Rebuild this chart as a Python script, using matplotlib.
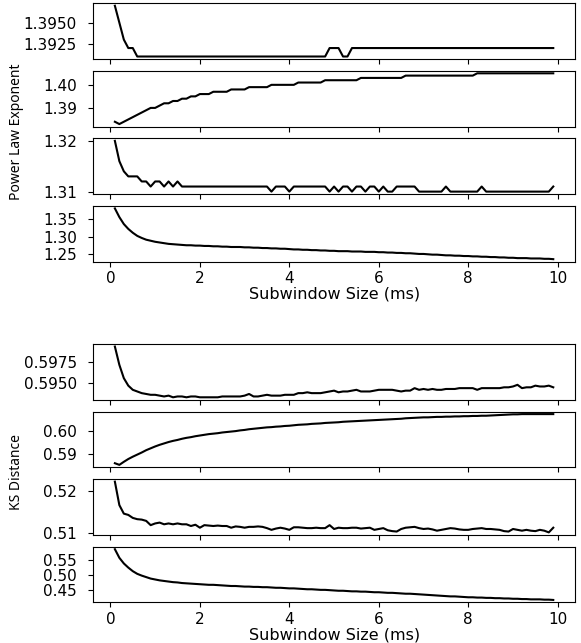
import numpy as np
import matplotlib
matplotlib.use("Agg")
import matplotlib.pyplot as plt

# subwindow sizes in ms (0.1 ... 9.9)
subwindow_ms = np.round(np.arange(1, 100) * 0.1, 1)

# power law exponent, four panels (top to bottom)
pl_panel1 = [
    1.397, 1.395, 1.393, 1.392, 1.392, 1.391, 1.391, 1.391, 1.391, 1.391,
    1.391, 1.391, 1.391, 1.391, 1.391, 1.391, 1.391, 1.391, 1.391, 1.391,
    1.391, 1.391, 1.391, 1.391, 1.391, 1.391, 1.391, 1.391, 1.391, 1.391,
    1.391, 1.391, 1.391, 1.391, 1.391, 1.391, 1.391, 1.391, 1.391, 1.391,
    1.391, 1.391, 1.391, 1.391, 1.391, 1.391, 1.391, 1.391, 1.392, 1.392,
    1.392, 1.391, 1.391, 1.392, 1.392, 1.392, 1.392, 1.392, 1.392, 1.392,
    1.392, 1.392, 1.392, 1.392, 1.392, 1.392, 1.392, 1.392, 1.392, 1.392,
    1.392, 1.392, 1.392, 1.392, 1.392, 1.392, 1.392, 1.392, 1.392, 1.392,
    1.392, 1.392, 1.392, 1.392, 1.392, 1.392, 1.392, 1.392, 1.392, 1.392,
    1.392, 1.392, 1.392, 1.392, 1.392, 1.392, 1.392, 1.392, 1.392,
]
pl_panel2 = [
    1.384, 1.383, 1.384, 1.385, 1.386, 1.387, 1.388, 1.389, 1.390, 1.390,
    1.391, 1.392, 1.392, 1.393, 1.393, 1.394, 1.394, 1.395, 1.395, 1.396,
    1.396, 1.396, 1.397, 1.397, 1.397, 1.397, 1.398, 1.398, 1.398, 1.398,
    1.399, 1.399, 1.399, 1.399, 1.399, 1.400, 1.400, 1.400, 1.400, 1.400,
    1.400, 1.401, 1.401, 1.401, 1.401, 1.401, 1.401, 1.402, 1.402, 1.402,
    1.402, 1.402, 1.402, 1.402, 1.402, 1.403, 1.403, 1.403, 1.403, 1.403,
    1.403, 1.403, 1.403, 1.403, 1.403, 1.404, 1.404, 1.404, 1.404, 1.404,
    1.404, 1.404, 1.404, 1.404, 1.404, 1.404, 1.404, 1.404, 1.404, 1.404,
    1.404, 1.405, 1.405, 1.405, 1.405, 1.405, 1.405, 1.405, 1.405, 1.405,
    1.405, 1.405, 1.405, 1.405, 1.405, 1.405, 1.405, 1.405, 1.405,
]
pl_panel3 = [
    1.320, 1.316, 1.314, 1.313, 1.313, 1.313, 1.312, 1.312, 1.311, 1.312,
    1.312, 1.311, 1.312, 1.311, 1.312, 1.311, 1.311, 1.311, 1.311, 1.311,
    1.311, 1.311, 1.311, 1.311, 1.311, 1.311, 1.311, 1.311, 1.311, 1.311,
    1.311, 1.311, 1.311, 1.311, 1.311, 1.310, 1.311, 1.311, 1.311, 1.310,
    1.311, 1.311, 1.311, 1.311, 1.311, 1.311, 1.311, 1.311, 1.310, 1.311,
    1.310, 1.311, 1.311, 1.310, 1.311, 1.311, 1.310, 1.311, 1.311, 1.310,
    1.311, 1.310, 1.310, 1.311, 1.311, 1.311, 1.311, 1.311, 1.310, 1.310,
    1.310, 1.310, 1.310, 1.310, 1.311, 1.310, 1.310, 1.310, 1.310, 1.310,
    1.310, 1.310, 1.311, 1.310, 1.310, 1.310, 1.310, 1.310, 1.310, 1.310,
    1.310, 1.310, 1.310, 1.310, 1.310, 1.310, 1.310, 1.310, 1.311,
]
pl_panel4 = [
    1.381, 1.356, 1.336, 1.322, 1.311, 1.302, 1.296, 1.291, 1.288, 1.285,
    1.283, 1.281, 1.279, 1.278, 1.277, 1.276, 1.275, 1.275, 1.274, 1.274,
    1.273, 1.273, 1.272, 1.272, 1.271, 1.271, 1.270, 1.270, 1.270, 1.269,
    1.269, 1.268, 1.268, 1.267, 1.267, 1.266, 1.266, 1.265, 1.265, 1.264,
    1.263, 1.263, 1.262, 1.262, 1.261, 1.261, 1.260, 1.260, 1.259, 1.259,
    1.258, 1.258, 1.258, 1.257, 1.257, 1.257, 1.256, 1.256, 1.256, 1.255,
    1.255, 1.254, 1.254, 1.253, 1.253, 1.252, 1.252, 1.251, 1.250, 1.250,
    1.249, 1.248, 1.248, 1.247, 1.246, 1.246, 1.245, 1.245, 1.244, 1.244,
    1.243, 1.243, 1.242, 1.242, 1.241, 1.241, 1.240, 1.240, 1.239, 1.239,
    1.238, 1.238, 1.238, 1.237, 1.237, 1.237, 1.236, 1.236, 1.235,
]

# KS distance, four panels (top to bottom)
ks_panel1 = [
    0.5994, 0.5972, 0.5956, 0.5947, 0.5942, 0.5940, 0.5938, 0.5937, 0.5936, 0.5936,
    0.5935, 0.5934, 0.5935, 0.5933, 0.5934, 0.5934, 0.5933, 0.5934, 0.5934, 0.5933,
    0.5933, 0.5933, 0.5933, 0.5933, 0.5934, 0.5934, 0.5934, 0.5934, 0.5934, 0.5935,
    0.5937, 0.5934, 0.5934, 0.5935, 0.5936, 0.5935, 0.5935, 0.5935, 0.5936, 0.5936,
    0.5936, 0.5938, 0.5938, 0.5939, 0.5938, 0.5938, 0.5938, 0.5939, 0.5940, 0.5941,
    0.5939, 0.5940, 0.5940, 0.5941, 0.5942, 0.5940, 0.5940, 0.5940, 0.5941, 0.5942,
    0.5942, 0.5942, 0.5942, 0.5941, 0.5940, 0.5941, 0.5941, 0.5944, 0.5942, 0.5943,
    0.5942, 0.5943, 0.5942, 0.5942, 0.5943, 0.5943, 0.5943, 0.5944, 0.5944, 0.5944,
    0.5944, 0.5942, 0.5944, 0.5944, 0.5944, 0.5944, 0.5944, 0.5945, 0.5945, 0.5946,
    0.5948, 0.5944, 0.5945, 0.5945, 0.5947, 0.5946, 0.5946, 0.5947, 0.5945,
]
ks_panel2 = [
    0.5860, 0.5853, 0.5866, 0.5878, 0.5888, 0.5897, 0.5906, 0.5916, 0.5924, 0.5932,
    0.5939, 0.5945, 0.5951, 0.5956, 0.5960, 0.5965, 0.5969, 0.5972, 0.5976, 0.5979,
    0.5982, 0.5985, 0.5987, 0.5989, 0.5992, 0.5994, 0.5996, 0.5998, 0.6001, 0.6003,
    0.6006, 0.6008, 0.6010, 0.6012, 0.6014, 0.6015, 0.6017, 0.6018, 0.6020, 0.6021,
    0.6023, 0.6025, 0.6026, 0.6027, 0.6029, 0.6030, 0.6031, 0.6033, 0.6034, 0.6035,
    0.6036, 0.6038, 0.6039, 0.6040, 0.6041, 0.6042, 0.6043, 0.6044, 0.6045, 0.6046,
    0.6047, 0.6048, 0.6049, 0.6050, 0.6051, 0.6053, 0.6054, 0.6055, 0.6056, 0.6057,
    0.6057, 0.6058, 0.6059, 0.6059, 0.6060, 0.6060, 0.6061, 0.6061, 0.6062, 0.6062,
    0.6063, 0.6063, 0.6064, 0.6064, 0.6065, 0.6066, 0.6067, 0.6068, 0.6069, 0.6070,
    0.6070, 0.6071, 0.6071, 0.6071, 0.6071, 0.6071, 0.6071, 0.6071, 0.6071,
]
ks_panel3 = [
    0.5221, 0.5166, 0.5146, 0.5143, 0.5136, 0.5133, 0.5132, 0.5129, 0.5119, 0.5123,
    0.5125, 0.5121, 0.5123, 0.5121, 0.5123, 0.5121, 0.5121, 0.5117, 0.5120, 0.5113,
    0.5119, 0.5118, 0.5117, 0.5118, 0.5117, 0.5117, 0.5113, 0.5116, 0.5115, 0.5113,
    0.5115, 0.5115, 0.5116, 0.5115, 0.5112, 0.5108, 0.5111, 0.5113, 0.5111, 0.5108,
    0.5114, 0.5114, 0.5113, 0.5112, 0.5112, 0.5113, 0.5112, 0.5112, 0.5119, 0.5110,
    0.5113, 0.5112, 0.5112, 0.5113, 0.5113, 0.5111, 0.5112, 0.5113, 0.5108, 0.5110,
    0.5112, 0.5107, 0.5105, 0.5104, 0.5110, 0.5113, 0.5114, 0.5115, 0.5112, 0.5110,
    0.5111, 0.5109, 0.5106, 0.5108, 0.5110, 0.5112, 0.5111, 0.5109, 0.5108, 0.5108,
    0.5110, 0.5111, 0.5112, 0.5110, 0.5110, 0.5109, 0.5108, 0.5105, 0.5104, 0.5110,
    0.5108, 0.5106, 0.5108, 0.5106, 0.5105, 0.5108, 0.5106, 0.5102, 0.5113,
]
ks_panel4 = [
    0.586, 0.557, 0.538, 0.524, 0.512, 0.503, 0.497, 0.492, 0.487, 0.484,
    0.481, 0.479, 0.477, 0.475, 0.474, 0.472, 0.471, 0.470, 0.469, 0.468,
    0.467, 0.466, 0.466, 0.465, 0.464, 0.463, 0.462, 0.462, 0.461, 0.460,
    0.460, 0.459, 0.459, 0.458, 0.458, 0.457, 0.456, 0.456, 0.455, 0.454,
    0.454, 0.453, 0.452, 0.451, 0.451, 0.450, 0.449, 0.449, 0.448, 0.447,
    0.446, 0.446, 0.445, 0.444, 0.444, 0.443, 0.443, 0.442, 0.441, 0.441,
    0.440, 0.439, 0.439, 0.438, 0.437, 0.436, 0.436, 0.435, 0.434, 0.433,
    0.432, 0.431, 0.430, 0.429, 0.428, 0.427, 0.427, 0.426, 0.425, 0.424,
    0.424, 0.423, 0.423, 0.422, 0.422, 0.421, 0.421, 0.420, 0.420, 0.419,
    0.419, 0.418, 0.418, 0.417, 0.417, 0.417, 0.416, 0.416, 0.415,
]

# y tick labels per panel
pl_yticks = [["1.3925", "1.3950"], ["1.39", "1.40"], ["1.31", "1.32"], ["1.25", "1.30", "1.35"]]
ks_yticks = [["0.5950", "0.5975"], ["0.59", "0.60"], ["0.51", "0.52"], ["0.45", "0.50", "0.55"]]

TICK_FS = 11


def draw_group(fig, gs, series, ytick_labels):
    """Four stacked panels sharing the subwindow axis."""
    axes = gs.subplots(sharex=True)
    for ax, values, labels in zip(axes, series, ytick_labels):
        ax.plot(subwindow_ms, values, color="black", linewidth=1.5)
        ax.set_yticks([float(t) for t in labels])
        ax.set_yticklabels(labels)
        ax.tick_params(axis="both", labelsize=TICK_FS)
        ax.tick_params(axis="y", pad=8)
    axes[-1].set_xticks([0, 2, 4, 6, 8, 10])
    axes[-1].set_xlabel("Subwindow Size (ms)", fontsize=11.5, labelpad=0)
    return axes


fig = plt.figure(figsize=(5.81, 6.43), dpi=100)

gs_pl = fig.add_gridspec(4, 1, left=0.160, right=0.990, top=0.995, bottom=0.593, hspace=0.21)
draw_group(fig, gs_pl, [pl_panel1, pl_panel2, pl_panel3, pl_panel4], pl_yticks)

gs_ks = fig.add_gridspec(4, 1, left=0.160, right=0.990, top=0.465, bottom=0.063, hspace=0.21)
draw_group(fig, gs_ks, [ks_panel1, ks_panel2, ks_panel3, ks_panel4], ks_yticks)

# narrower font for the shared y labels
ylabel_font = ["Noto Sans", "DejaVu Sans"]
fig.text(0.028, 0.7955, "Power Law Exponent", rotation=90, ha="center", va="center",
         fontsize=10, family=ylabel_font)
fig.text(0.028, 0.266, "KS Distance", rotation=90, ha="center", va="center",
         fontsize=10, family=ylabel_font)

fig.savefig("out.png", dpi=100)
plt.close(fig)
